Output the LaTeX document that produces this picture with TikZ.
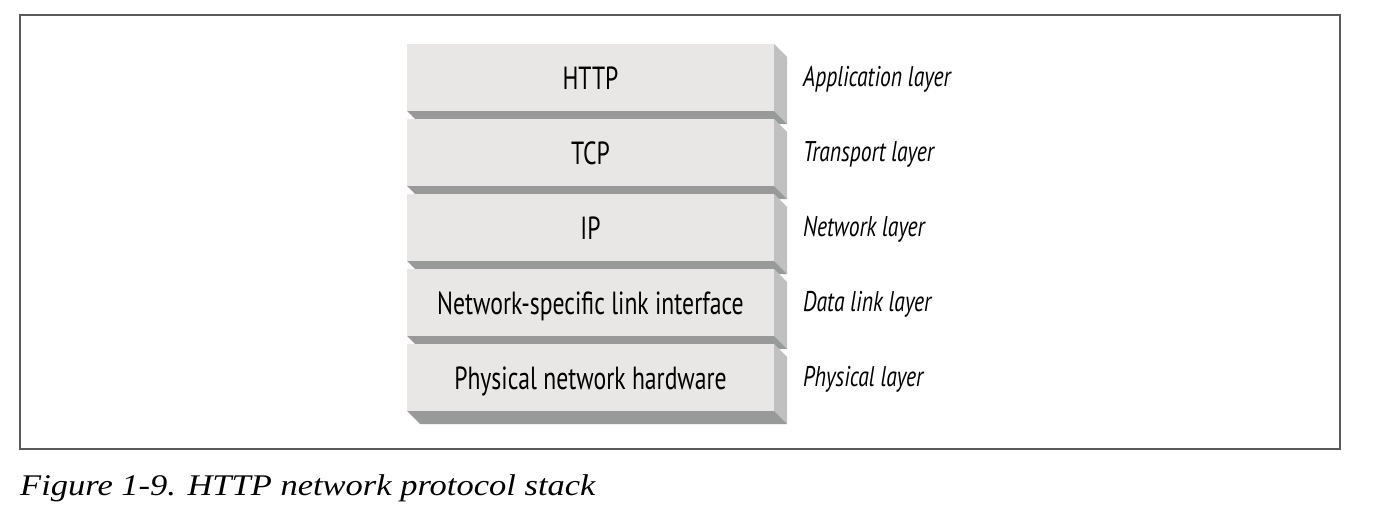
\documentclass[tikz,border=0pt]{standalone}
\usepackage{fontspec}
\newfontfamily\boxfont[FakeStretch=0.74]{PT Sans}
\newfontfamily\labfont[FakeStretch=0.76]{PT Sans}
\newfontfamily\capfont[FakeStretch=1.15]{Liberation Serif}
\definecolor{facegray}{RGB}{232,231,229}
\definecolor{sidegray}{RGB}{192,192,192}
\definecolor{botgray}{RGB}{152,154,154}
\definecolor{framegray}{RGB}{90,90,90}
\tikzset{
  layerface/.style={fill=facegray, draw=none, minimum width=367pt, minimum height=67pt, inner sep=0pt, outer sep=0pt},
  layertext/.style={anchor=base, inner sep=0pt, text=black, font=\boxfont\fontsize{32}{38}\selectfont},
  layerlabel/.style={anchor=base west, inner sep=0pt, text=black, font=\labfont\itshape\fontsize{28.5}{34}\selectfont},
  sideface/.style={fill=sidegray, draw=none},
  botface/.style={fill=botgray, draw=none}
}
\begin{document}
\begin{tikzpicture}[x=1pt,y=-1pt]
\useasboundingbox (0,0) rectangle (1373,511);
\draw[framegray, line width=1.5pt] (20,15) rectangle (1340,449);
\foreach \nm/\txt/\lab/\yc in {app/HTTP/Application layer/77.5, tr/TCP/Transport layer/152.5, net/IP/Network layer/227.5, dl/Network-specific link interface/Data link layer/302.5, ph/Physical network hardware/Physical layer/377.5}{
  \node[layerface] (\nm) at (590.5,\yc) {};
  \fill[sideface] (\nm.north east) -- ++(13,13) -- ++(0,67) -- (\nm.south east) -- cycle;
  \fill[botface] (\nm.south west) -- (\nm.south east) -- ++(13,13) -- ++(-367,0) -- cycle;
  \node[layertext] (\nm-txt) at (590.5,\yc+11.5) {\txt};
  \node[layerlabel] (\nm-lab) at (803,\yc+8.5) {\lab};
}
\node[anchor=base west, inner sep=0pt, font=\capfont\itshape\fontsize{30}{36}\selectfont] (cap) at (20,495) {Figure 1-9. HTTP network protocol stack};
\end{tikzpicture}
\end{document}
